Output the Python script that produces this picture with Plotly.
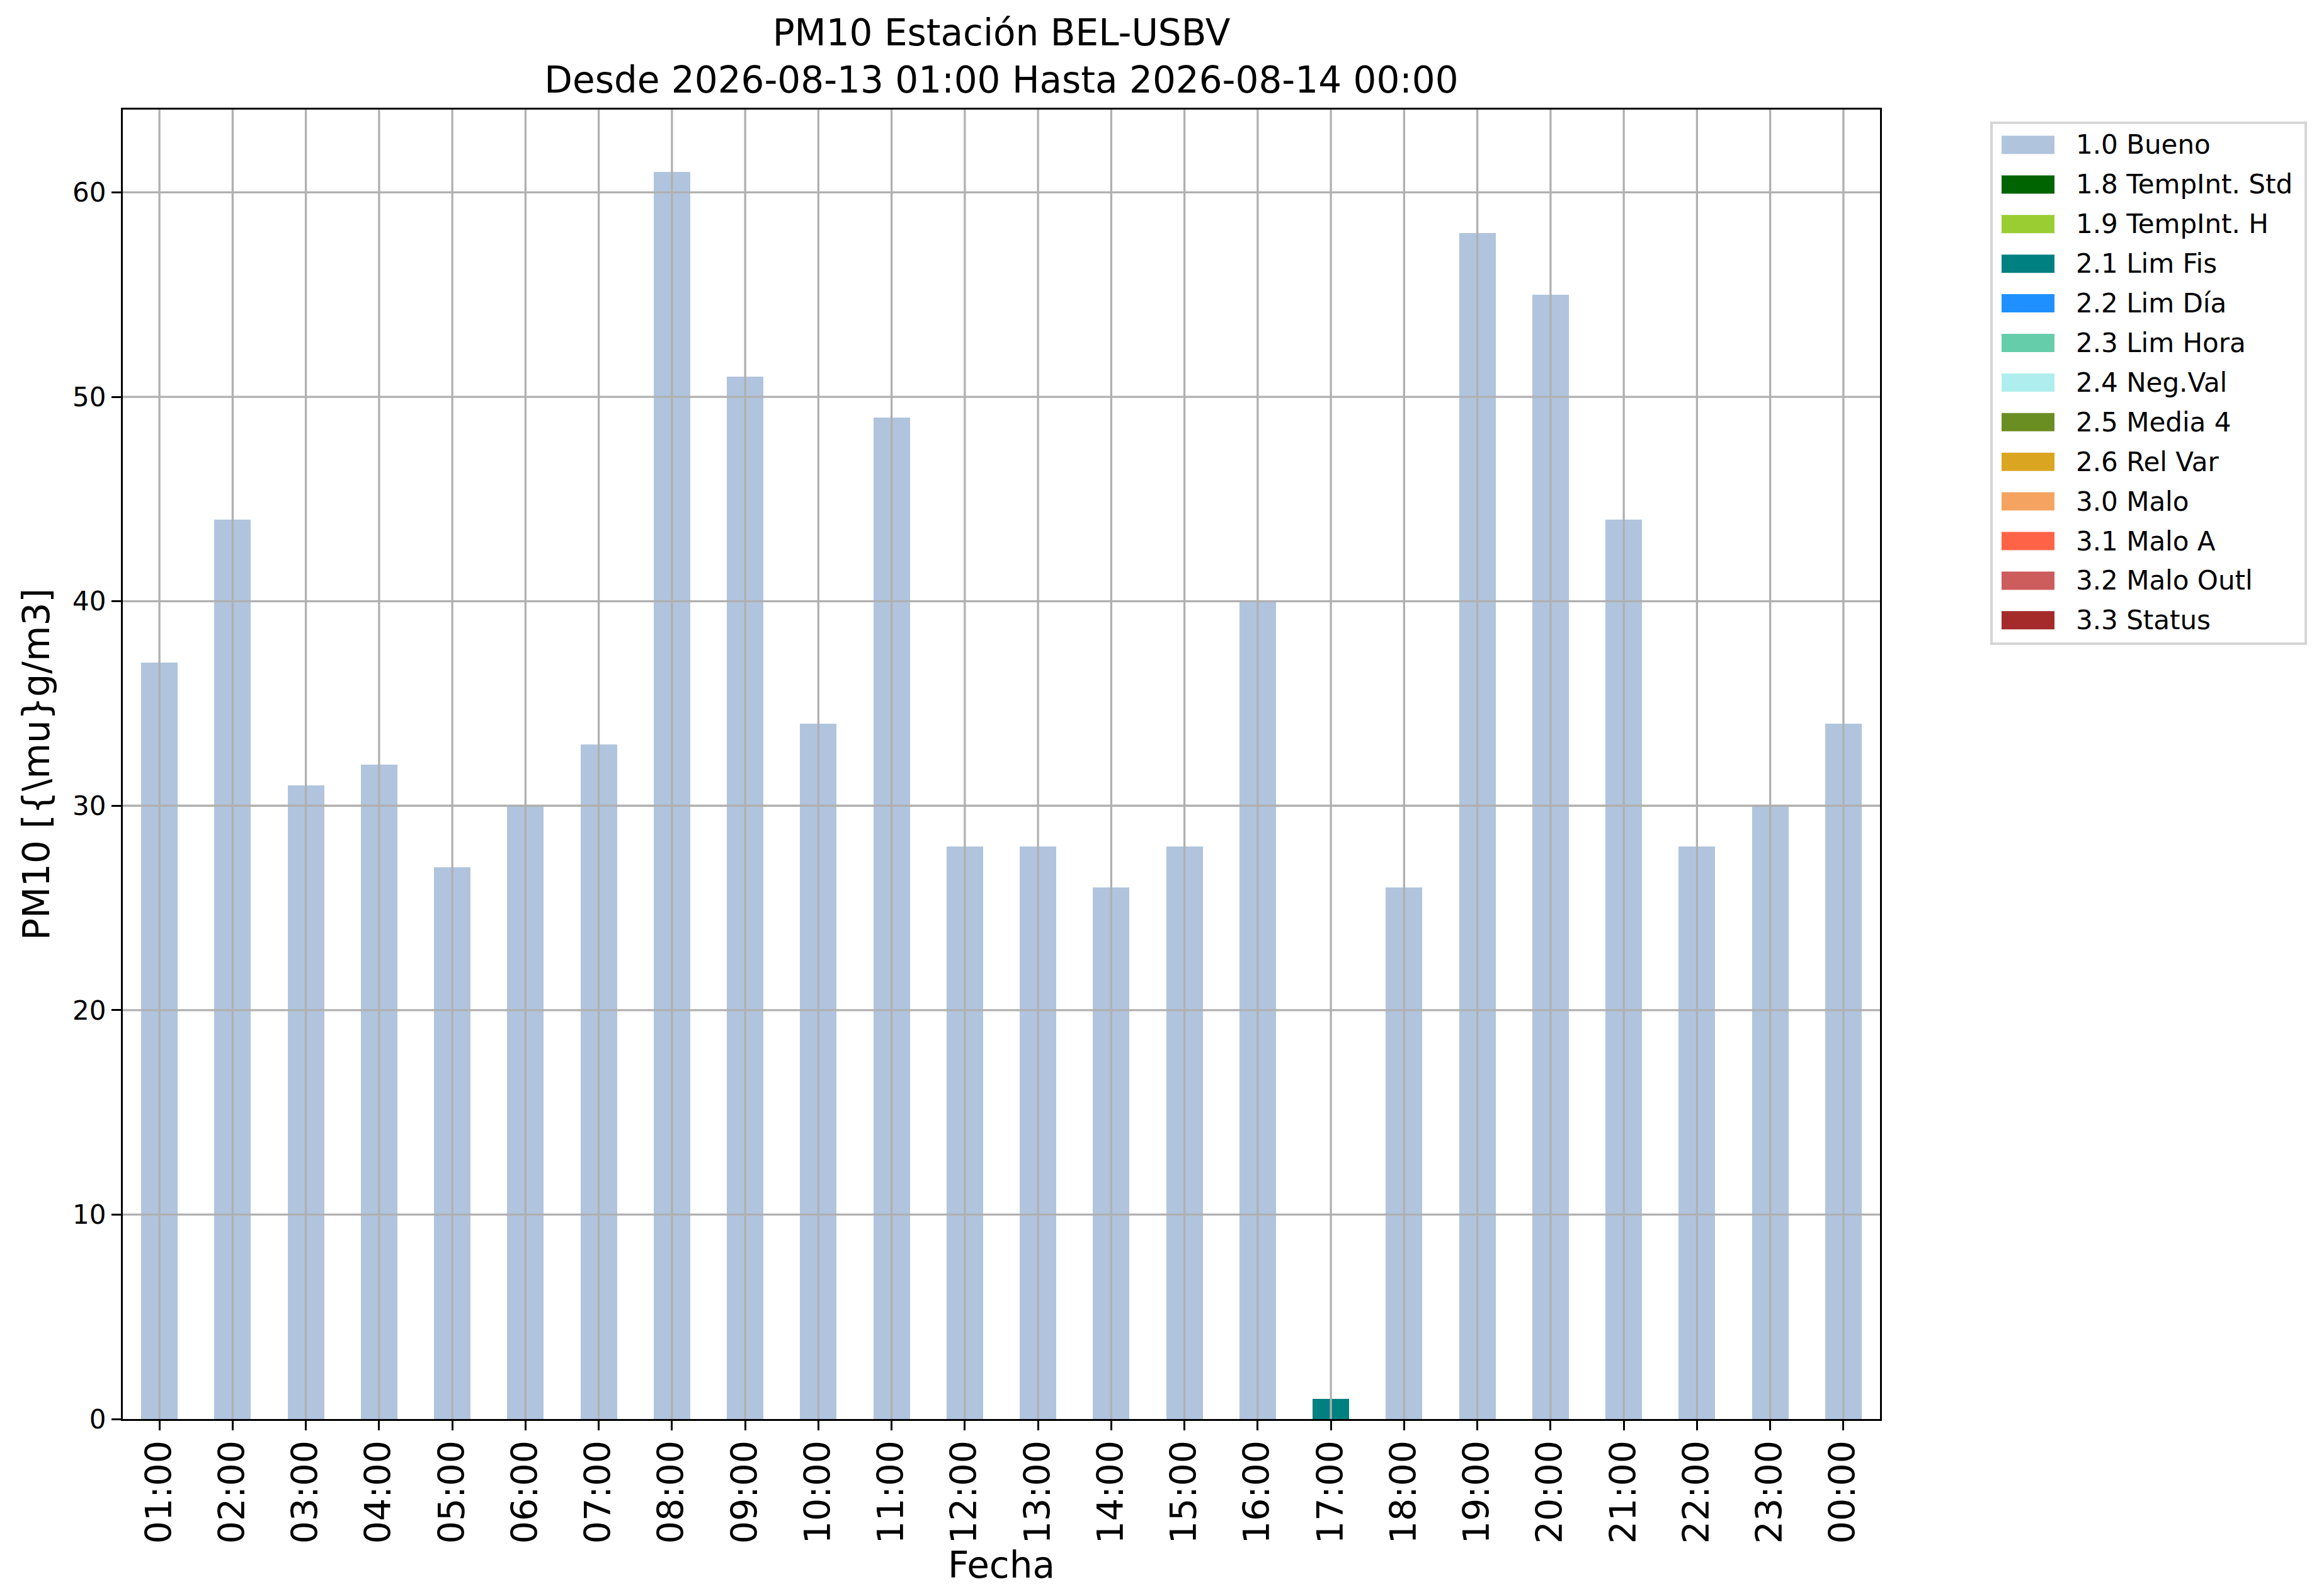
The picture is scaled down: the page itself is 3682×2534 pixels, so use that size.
import plotly.graph_objects as go

# datos horarios PM10 (estación BEL-USBV)
horas = ["01:00", "02:00", "03:00", "04:00", "05:00", "06:00", "07:00", "08:00",
         "09:00", "10:00", "11:00", "12:00", "13:00", "14:00", "15:00", "16:00",
         "17:00", "18:00", "19:00", "20:00", "21:00", "22:00", "23:00", "00:00"]
valores = [37, 44, 31, 32, 27, 30, 33, 61, 51, 34, 49, 28, 28, 26, 28, 40,
           1, 26, 58, 55, 44, 28, 30, 34]
flags = ["1.0 Bueno"] * 16 + ["2.1 Lim Fis"] + ["1.0 Bueno"] * 7

categorias = ["1.0 Bueno", "1.8 TempInt. Std", "1.9 TempInt. H", "2.1 Lim Fis",
              "2.2 Lim Día", "2.3 Lim Hora", "2.4 Neg.Val", "2.5 Media 4",
              "2.6 Rel Var", "3.0 Malo", "3.1 Malo A", "3.2 Malo Outl", "3.3 Status"]
colores = ["#B0C4DE", "#006400", "#9ACD32", "#008080", "#1E90FF", "#66CDAA",
           "#AFEEEE", "#6B8E23", "#DAA520", "#F4A460", "#FF6347", "#CD5C5C", "#A52A2A"]

yticks = [0, 10, 20, 30, 40, 50, 60]

W, H = 3682, 2534
L, R, T, B = 187, 2977, 166, 2245
FONT = "DejaVu Sans"
GRID = "#b0b0b0"
LW = 3.3


def px_x(px):
    return (px - L) / (R - L)


def px_y(py):
    return (B - py) / (B - T)


fig = go.Figure()
for cat, col in zip(categorias, colores):
    xs = [h for h, f in zip(horas, flags) if f == cat]
    ys = [v for v, f in zip(valores, flags) if f == cat]
    if not xs:
        continue
    fig.add_trace(go.Bar(x=xs, y=ys, name=cat, width=0.5,
                         marker=dict(color=col, line=dict(width=0)),
                         showlegend=False))

shapes = []
# rejilla por encima de las barras (como en matplotlib)
for h in horas:
    shapes.append(dict(type="line", xref="x", yref="paper", x0=h, x1=h, y0=0, y1=1,
                       line=dict(color=GRID, width=LW), layer="above"))
for v in yticks[1:]:
    shapes.append(dict(type="line", xref="paper", yref="y", x0=0, x1=1, y0=v, y1=v,
                       line=dict(color=GRID, width=LW), layer="above"))

# leyenda
annotations = []
shapes.append(dict(type="rect", xref="paper", yref="paper",
                   x0=px_x(3154), x1=px_x(3653), y0=px_y(1014), y1=px_y(187),
                   line=dict(color="#d6d6d6", width=4.2), fillcolor="white", layer="above"))
for i, (cat, col) in enumerate(zip(categorias, colores)):
    cy = 222 + i * 62.9
    shapes.append(dict(type="rect", xref="paper", yref="paper",
                       x0=px_x(3170), x1=px_x(3254), y0=px_y(cy + 14.5), y1=px_y(cy - 14.5),
                       line=dict(width=0), fillcolor=col, layer="above"))
    annotations.append(dict(text=cat, xref="paper", yref="paper", x=px_x(3286), y=px_y(cy),
                            xanchor="left", yanchor="middle", showarrow=False,
                            font=dict(family=FONT, size=42, color="black")))

fig.update_layout(
    width=W, height=H,
    margin=dict(l=L, r=W - R, t=T, b=H - B, autoexpand=False),
    paper_bgcolor="white", plot_bgcolor="white",
    barmode="stack", bargap=0.5,
    font=dict(family=FONT, color="black"),
    title=dict(text="PM10 Estación BEL-USBV<br>Desde 2026-08-13 01:00 Hasta 2026-08-14 00:00",
               x=0.5, xref="paper", xanchor="center",
               y=1 - 64 / H, yref="container", yanchor="top",
               font=dict(family=FONT, size=58, color="black")),
    shapes=shapes,
    annotations=annotations,
    showlegend=False,
)

fig.update_xaxes(
    type="category", categoryorder="array", categoryarray=horas,
    range=[-0.5, len(horas) - 0.5],
    showgrid=False, zeroline=False,
    showline=True, mirror=True, linecolor="black", linewidth=LW,
    ticks="outside", ticklen=15, tickwidth=LW, tickcolor="black",
    tickangle=-90, tickfont=dict(family=FONT, size=57, color="black"),
    ticklabelstandoff=-7,
    title=dict(text="Fecha", font=dict(family=FONT, size=58, color="black"), standoff=8),
    layer="above traces",
)
fig.update_yaxes(
    range=[0, 64.05], tickvals=yticks,
    showgrid=False, zeroline=False,
    showline=True, mirror=True, linecolor="black", linewidth=LW,
    ticks="outside", ticklen=15, tickwidth=LW, tickcolor="black",
    tickfont=dict(family=FONT, size=42, color="black"),
    title=dict(text=r"PM10 [{\mu}g/m3]", font=dict(family=FONT, size=58, color="black"), standoff=18),
    layer="above traces",
)

fig.write_html("out.html")
